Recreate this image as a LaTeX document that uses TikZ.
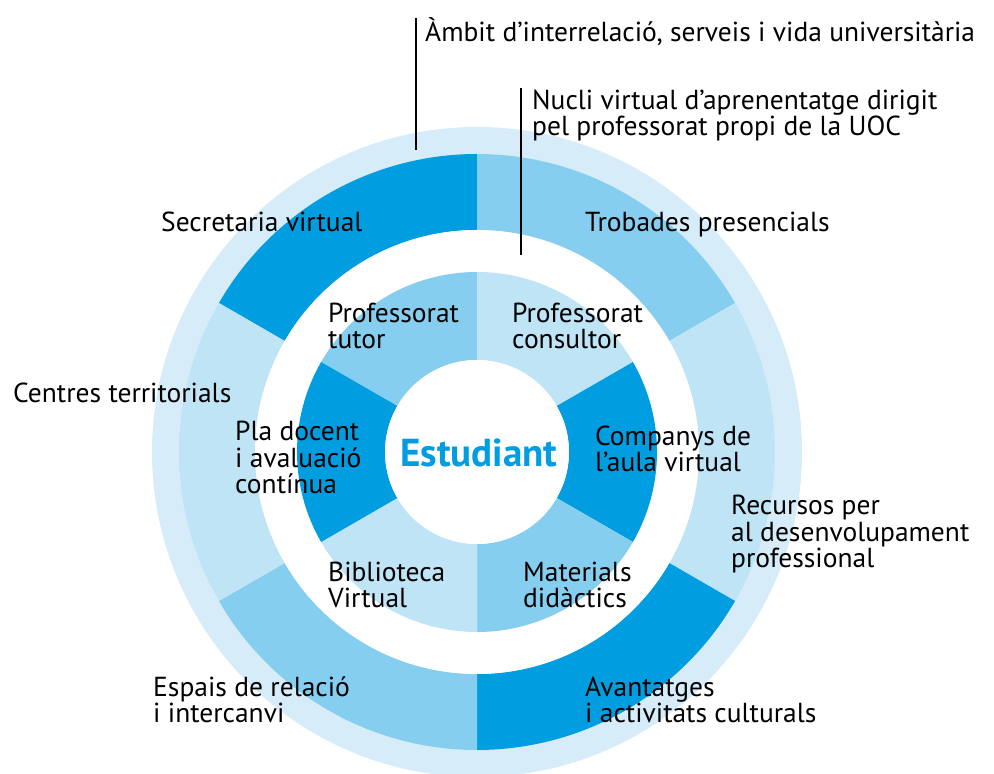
\documentclass[tikz,border=0pt]{standalone}
\usepackage{fontspec}
\setmainfont{PT Sans}
\definecolor{cdark}{RGB}{0,158,224}
\definecolor{cmed}{RGB}{134,206,239}
\definecolor{clight}{RGB}{190,228,246}
\definecolor{cpale}{RGB}{214,236,249}
\begin{document}
\begin{tikzpicture}[x=1pt,y=1pt,
  lbl/.style={anchor=base west,inner sep=0pt,align=left,font=\fontsize{27.5}{26.5}\selectfont},
  leader/.style={draw=black,line width=1.2pt},
  ]
\useasboundingbox (0,0) rectangle (994,774);
\newcommand{\ringsector}[5]{% color, a1, a2, rin, rout
  \fill[#1] (#2:#5) arc[start angle=#2,end angle=#3,radius=#5] -- (#3:#4) arc[start angle=#3,end angle=#2,radius=#4] -- cycle;}
\begin{scope}[shift={(477,322)}]
  \fill[cpale] (0,0) circle[radius=325];
  % outer segmented ring
  \ringsector{cdark}{90}{150}{222}{298}
  \ringsector{cmed}{30}{90}{222}{298}
  \ringsector{clight}{-30}{30}{222}{298}
  \ringsector{cdark}{-90}{-30}{222}{298}
  \ringsector{cmed}{-150}{-90}{222}{298}
  \ringsector{clight}{150}{210}{222}{298}
  \fill[white] (0,0) circle[radius=222];
  % inner segmented ring
  \ringsector{cmed}{90}{150}{92}{180}
  \ringsector{clight}{30}{90}{92}{180}
  \ringsector{cdark}{-30}{30}{92}{180}
  \ringsector{cmed}{-90}{-30}{92}{180}
  \ringsector{clight}{-150}{-90}{92}{180}
  \ringsector{cdark}{150}{210}{92}{180}
  \fill[white] (0,0) circle[radius=92];
\end{scope}
% leaders
\coordinate (l1top) at (416,756);
\coordinate (l1bot) at (416,624);
\coordinate (l2top) at (521,686);
\coordinate (l2bot) at (521,519);
\draw[leader] (l1top) -- (l1bot);
\draw[leader] (l2top) -- (l2bot);
% labels (anchor = baseline of last line)
\node[lbl] (ambit) at (425,732) {Àmbit d’interrelació, serveis i vida universitària};
\node[lbl] (nucli) at (532,638) {Nucli virtual d’aprenentatge dirigit\\pel professorat propi de la UOC};
\node[lbl] (trobades) at (585,542) {Trobades presencials};
\node[lbl] (secretaria) at (161,542) {Secretaria virtual};
\node[lbl] (tutor) at (328,425) {Professorat\\tutor};
\node[lbl] (consultor) at (512,425) {Professorat\\consultor};
\node[lbl] (centres) at (13,371) {Centres territorials};
\node[lbl] (pla) at (235,280) {Pla docent\\i avaluació\\contínua};
\node[lbl] (companys) at (595,302) {Companys de\\l’aula virtual};
\node[anchor=base,inner sep=0pt,text=cdark,font=\fontsize{39}{39}\selectfont\bfseries] (estudiant) at (479,307) {Estudiant};
\node[lbl] (recursos) at (731,206) {Recursos per\\al desenvolupament\\professional};
\node[lbl] (biblioteca) at (328,166) {Biblioteca\\Virtual};
\node[lbl] (materials) at (523,166) {Materials\\didàctics};
\node[lbl] (espais) at (153,51) {Espais de relació\\i intercanvi};
\node[lbl] (avantatges) at (585,51) {Avantatges\\i activitats culturals};
\end{tikzpicture}
\end{document}
